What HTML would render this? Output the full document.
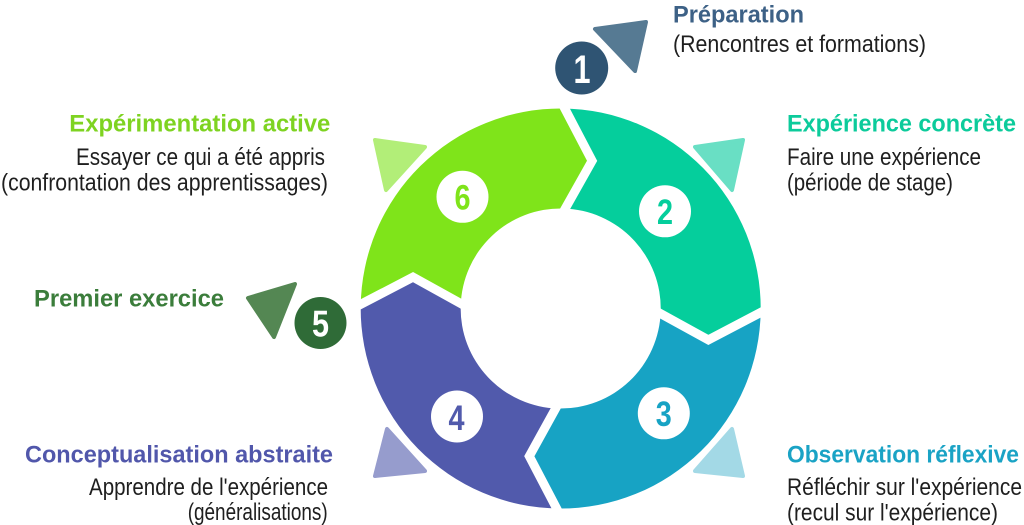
<!DOCTYPE html>
<html>
<head>
<meta charset="utf-8">
<style>
html,body{margin:0;padding:0;background:#fff;}
body{width:1024px;height:525px;overflow:hidden;}
svg{display:block;}
.t{font-family:"Liberation Sans",sans-serif;font-weight:bold;font-size:24px;}
.s{font-family:"Liberation Sans",sans-serif;font-size:24px;fill:#1f1f1f;}
.n{font-family:"Liberation Sans",sans-serif;font-size:35px;font-weight:bold;}
</style>
</head>
<body>
<svg width="1024" height="525" viewBox="0 0 1024 525" xmlns="http://www.w3.org/2000/svg">
  <!-- light corner triangles -->
  <polygon points="375,140 425,147 386,190" fill="#B2EE78" stroke="#B2EE78" stroke-width="4" stroke-linejoin="round"/>
  <polygon points="743,140 695,147 732,190" fill="#69DFC4" stroke="#69DFC4" stroke-width="4" stroke-linejoin="round"/>
  <polygon points="375,476 425,471 387,429" fill="#969CCD" stroke="#969CCD" stroke-width="4" stroke-linejoin="round"/>
  <polygon points="743,476 695,471 732,429" fill="#A3D9E6" stroke="#A3D9E6" stroke-width="4" stroke-linejoin="round"/>

  <!-- ring segments -->
  <path d="M 562.4,108.5 A 200 200 0 0 1 760.7,310.2 L 708.4,339.9 L 660.7,311.1 A 100 100 0 0 0 563.3,208.5 L 592.1,160.8 Z" fill="#05CE9C"/>
  <path d="M 760.7,310.2 A 200 200 0 0 1 559.0,508.5 L 529.3,456.2 L 558.1,408.5 A 100 100 0 0 0 660.7,311.1 L 708.4,339.9 Z" fill="#17A3C4"/>
  <path d="M 559.0,508.5 A 200 200 0 0 1 360.7,306.8 L 413.0,277.1 L 460.7,305.9 A 100 100 0 0 0 558.1,408.5 L 529.3,456.2 Z" fill="#515AAC"/>
  <path d="M 360.7,306.8 A 200 200 0 0 1 562.4,108.5 L 592.1,160.8 L 563.3,208.5 A 100 100 0 0 0 460.7,305.9 L 413.0,277.1 Z" fill="#7FE41A"/>

  <!-- white gaps -->
  <g fill="none" stroke="#fff" stroke-width="9" stroke-linejoin="miter" stroke-linecap="square">
    <polyline points="562.4,104 592.1,160.8 563.3,212"/>
    <polyline points="765,310.2 708.4,339.9 656,311.1"/>
    <polyline points="559.0,513 529.3,456.2 558.1,404"/>
    <polyline points="356,306.8 413.0,277.1 465,305.9"/>
  </g>

  <!-- number circles on ring -->
  <circle cx="462.5" cy="196.8" r="26" fill="#fff"/>
  <circle cx="665" cy="211.3" r="26" fill="#fff"/>
  <circle cx="663.8" cy="413.3" r="26" fill="#fff"/>
  <circle cx="457" cy="416.5" r="26" fill="#fff"/>
  <text class="n" x="454.5" y="209.5" textLength="16" lengthAdjust="spacingAndGlyphs" fill="#7FE41A">6</text>
  <text class="n" x="657" y="224" textLength="16" lengthAdjust="spacingAndGlyphs" fill="#05CE9C">2</text>
  <text class="n" x="655.8" y="426" textLength="16" lengthAdjust="spacingAndGlyphs" fill="#17A3C4">3</text>
  <text class="n" x="448.5" y="430" textLength="16" lengthAdjust="spacingAndGlyphs" fill="#515AAC">4</text>

  <!-- step 1 -->
  <polygon points="595,29 646,22 635,71" fill="#567A93" stroke="#567A93" stroke-width="4" stroke-linejoin="round"/>
  <circle cx="581.7" cy="68" r="26.5" fill="#2F5473"/>
  <text class="n" x="573.5" y="83" textLength="17" lengthAdjust="spacingAndGlyphs" fill="#fff" style="font-size:40px">1</text>

  <!-- step 5 -->
  <polygon points="248,298 295,284 274,337" fill="#548753" stroke="#548753" stroke-width="4" stroke-linejoin="round"/>
  <circle cx="320.5" cy="323" r="26" fill="#2F6B37"/>
  <text class="n" x="312" y="336.5" textLength="17" lengthAdjust="spacingAndGlyphs" fill="#fff" style="font-size:37px">5</text>

  <!-- right texts -->
  <text class="t" x="673" y="22.7" textLength="131" lengthAdjust="spacingAndGlyphs" fill="#3D6186">Préparation</text>
  <text class="s" x="673" y="52" textLength="253" lengthAdjust="spacingAndGlyphs">(Rencontres et formations)</text>

  <text class="t" x="787" y="131.7" textLength="229" lengthAdjust="spacingAndGlyphs" fill="#0CCB9B">Expérience concrète</text>
  <text class="s" x="787" y="165" textLength="194" lengthAdjust="spacingAndGlyphs">Faire une expérience</text>
  <text class="s" x="787" y="190.7" textLength="166" lengthAdjust="spacingAndGlyphs">(période de stage)</text>

  <text class="t" x="787" y="462.3" textLength="232" lengthAdjust="spacingAndGlyphs" fill="#1AA3C5">Observation réflexive</text>
  <text class="s" x="787" y="495" textLength="235" lengthAdjust="spacingAndGlyphs">Réfléchir sur l'expérience</text>
  <text class="s" x="787" y="520.7" textLength="211" lengthAdjust="spacingAndGlyphs">(recul sur l'expérience)</text>

  <!-- left texts -->
  <text class="t" x="69.3" y="131.7" textLength="261" lengthAdjust="spacingAndGlyphs" fill="#7ED321">Expérimentation active</text>
  <text class="s" x="76" y="165" textLength="249" lengthAdjust="spacingAndGlyphs">Essayer ce qui a été appris</text>
  <text class="s" x="1" y="190.7" textLength="327" lengthAdjust="spacingAndGlyphs">(confrontation des apprentissages)</text>

  <text class="t" x="34" y="306.7" textLength="190" lengthAdjust="spacingAndGlyphs" fill="#3B7D3B">Premier exercice</text>

  <text class="t" x="25" y="462.3" textLength="308" lengthAdjust="spacingAndGlyphs" fill="#5157AB">Conceptualisation abstraite</text>
  <text class="s" x="89" y="495" textLength="239" lengthAdjust="spacingAndGlyphs">Apprendre de l'expérience</text>
  <text class="s" x="187.7" y="520" textLength="140" lengthAdjust="spacingAndGlyphs">(généralisations)</text>
</svg>
</body>
</html>
